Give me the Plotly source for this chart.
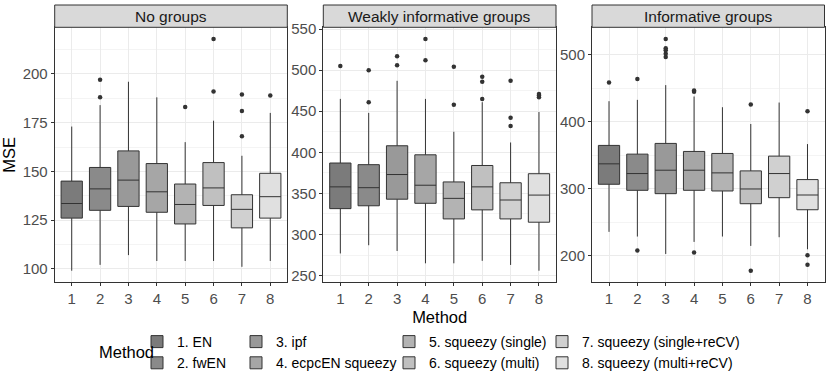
import plotly.graph_objects as go

# Box statistics (MSE per method, per scenario)
methods = ["1", "2", "3", "4", "5", "6", "7", "8"]
method_names = ["1. EN", "2. fwEN", "3. ipf", "4. ecpcEN squeezy",
                "5. squeezy (single)", "6. squeezy (multi)",
                "7. squeezy (single+reCV)", "8. squeezy (multi+reCV)"]
fills = ["#7b7b7b", "#8a8a8a", "#999999", "#a6a6a6",
         "#b3b3b3", "#c0c0c0", "#d0d0d0", "#e0e0e0"]
panels = ["No groups", "Weakly informative groups", "Informative groups"]

# No groups
ng_low = [99, 102, 107, 104, 104, 104, 101, 104]
ng_q1 = [126, 130, 132, 129, 123, 132.5, 121, 126]
ng_med = [133.5, 141, 145.5, 139.5, 133, 141.5, 130.5, 137]
ng_q3 = [145, 152, 160.5, 154, 143.5, 154.5, 138, 149]
ng_high = [173, 184, 196, 188, 165, 176, 158, 180]
ng_out_x = ["2", "2", "5", "6", "6", "7", "7", "7", "8"]
ng_out_y = [188, 197, 183, 191, 218, 168, 181, 189.5, 189]

# Weakly informative groups
wk_low = [277, 287, 280, 265, 265, 268, 263, 256]
wk_q1 = [331.5, 335, 343, 338, 319, 330, 319, 315]
wk_med = [358, 357, 373, 360, 344, 358, 342, 348]
wk_q3 = [387, 385, 408, 397, 364, 384, 363, 374]
wk_high = [465, 448, 487, 465, 425, 461, 412, 449]
wk_out_x = ["1", "2", "2", "3", "3", "4", "4", "5", "5",
            "6", "6", "6", "7", "7", "7", "8", "8", "8"]
wk_out_y = [505, 461, 500, 506, 517, 512, 538, 458, 504,
            465, 486, 492, 432, 442, 487, 467, 469, 471]

# Informative groups
in_low = [236, 229, 203, 221, 229, 215, 228, 210]
in_q1 = [307, 298, 293, 298, 297, 278, 287, 269]
in_med = [337.5, 323, 328, 328, 324, 300, 323, 291]
in_q3 = [365, 352, 368, 356, 353, 327, 349, 314]
in_high = [431, 433, 455, 438, 422, 397, 429, 367]
in_out_x = ["1", "2", "2", "3", "3", "3", "3", "3",
            "4", "4", "4", "6", "6", "8", "8", "8"]
in_out_y = [459, 208, 464, 497, 502, 507, 510, 524,
            205, 445, 447, 178, 426, 201, 187, 416]

stats = [
    (ng_low, ng_q1, ng_med, ng_q3, ng_high, ng_out_x, ng_out_y),
    (wk_low, wk_q1, wk_med, wk_q3, wk_high, wk_out_x, wk_out_y),
    (in_low, in_q1, in_med, in_q3, in_high, in_out_x, in_out_y),
]
y_ranges = [[93.05, 223.95], [241.9, 552.1], [160.7, 541.3]]
y_dticks = [25, 50, 100]

W, H = 830, 381
x_doms = [[54.7 / W, 287.3 / W], [323.3 / W, 556 / W], [592 / W, 824.5 / W]]
y_dom = [(H - 282.3) / H, (H - 27.3) / H]
strip_top = (H - 5) / H

FONT = "Liberation Sans"
legend_names = ["legend", "legend", "legend2", "legend2",
                "legend3", "legend3", "legend4", "legend4"]

fig = go.Figure()
for p, (low, q1, med, q3, high, ox, oy) in enumerate(stats):
    xa = "x" if p == 0 else f"x{p + 1}"
    ya = "y" if p == 0 else f"y{p + 1}"
    for i, m in enumerate(methods):
        fig.add_trace(go.Box(
            x=[m], q1=[q1[i]], median=[med[i]], q3=[q3[i]],
            lowerfence=[low[i]], upperfence=[high[i]],
            name=method_names[i], legendgroup=method_names[i],
            showlegend=(p == 0), legend=legend_names[i],
            fillcolor=fills[i], line=dict(color="#333333", width=1),
            width=0.75, whiskerwidth=0, boxpoints=False,
            xaxis=xa, yaxis=ya, hoverinfo="skip",
        ))
    fig.add_trace(go.Scatter(
        x=ox, y=oy, mode="markers", showlegend=False,
        marker=dict(color="#333333", size=4.5),
        xaxis=xa, yaxis=ya,
    ))

axis_common = dict(
    showline=True, mirror=True, linecolor="#333333", linewidth=1,
    gridcolor="#ebebeb", gridwidth=1, zeroline=False,
    ticks="outside", ticklen=3, tickwidth=1, tickcolor="#333333",
    tickfont=dict(family=FONT, size=15, color="#4d4d4d"),
)
layout = {}
for p in range(3):
    xk = "xaxis" if p == 0 else f"xaxis{p + 1}"
    yk = "yaxis" if p == 0 else f"yaxis{p + 1}"
    layout[xk] = dict(axis_common, domain=x_doms[p], type="category",
                      categoryorder="array", categoryarray=methods,
                      range=[-0.6, 7.6], anchor="y" if p == 0 else f"y{p + 1}")
    layout[yk] = dict(axis_common, domain=y_dom, range=y_ranges[p],
                      dtick=y_dticks[p], tick0=0,
                      minor=dict(dtick=y_dticks[p] / 2, showgrid=True,
                                 gridcolor="#f4f4f4", gridwidth=0.6),
                      anchor="x" if p == 0 else f"x{p + 1}")
layout["yaxis"]["title"] = dict(text="MSE", font=dict(family=FONT, size=16.5, color="#000000"),
                                standoff=5)
layout["xaxis2"]["title"] = dict(text="Method", font=dict(family=FONT, size=16.5, color="#000000"),
                                 standoff=5)
fig.update_layout(**layout)

# facet strips
for p in range(3):
    xr = "x domain" if p == 0 else f"x{p + 1} domain"
    fig.add_shape(type="rect", xref=xr, yref="paper", x0=0, x1=1,
                  y0=y_dom[1], y1=strip_top, fillcolor="#d9d9d9",
                  line=dict(color="#333333", width=1), layer="above")
    fig.add_annotation(text=panels[p], xref=xr, yref="paper", x=0.5,
                       y=(y_dom[1] + strip_top) / 2, xanchor="center", yanchor="middle",
                       showarrow=False,
                       font=dict(family=FONT, size=15.5, color="#1a1a1a"))

# legend title
fig.add_annotation(text="Method", xref="paper", yref="paper", x=156 / W, y=(H - 352) / H,
                   xanchor="right", yanchor="middle", showarrow=False,
                   font=dict(family=FONT, size=16.5, color="#000000"))

leg_font = dict(family=FONT, size=14, color="#000000")
leg_x = [137, 236, 389, 542]
for k, lx in enumerate(leg_x):
    key = "legend" if k == 0 else f"legend{k + 1}"
    fig.update_layout(**{key: dict(x=lx / W, y=(H - 326) / H, xanchor="left", yanchor="top",
                                   orientation="v", font=leg_font, bgcolor="rgba(0,0,0,0)",
                                   itemwidth=30, tracegroupgap=0)})

fig.update_layout(
    width=W, height=H, margin=dict(l=0, r=0, t=0, b=0, autoexpand=False),
    plot_bgcolor="white", paper_bgcolor="white",
    boxmode="overlay", font=dict(family=FONT),
)

# drop the page's default body margin so the 830x381 figure fills the window
fig.write_html("out.html", config={"displayModeBar": False},
               post_script="document.body.style.margin='0px';")
